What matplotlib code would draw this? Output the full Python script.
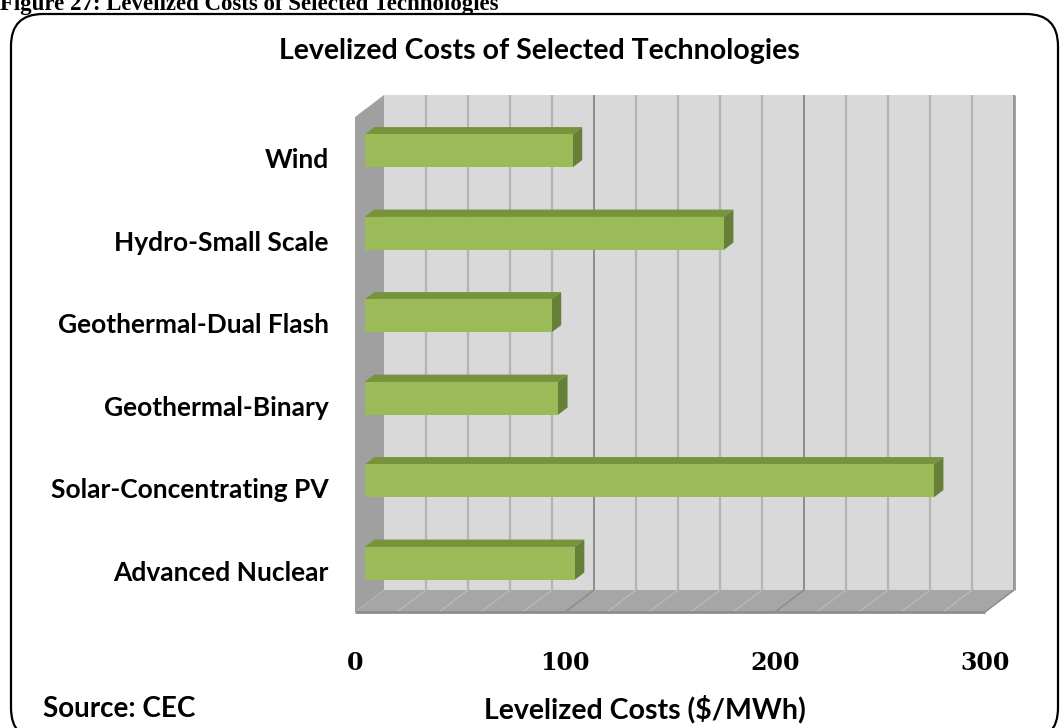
import numpy as np
import matplotlib
matplotlib.use("Agg")
import matplotlib.pyplot as plt
from matplotlib.patches import Polygon, FancyBboxPatch
from matplotlib.transforms import IdentityTransform, offset_copy

# data (bottom to top, as drawn)
technologies = ["Advanced Nuclear", "Solar-Concentrating PV", "Geothermal-Binary",
                "Geothermal-Dual Flash", "Hydro-Small Scale", "Wind"]
costs = [100, 271, 92, 89, 171, 99]
x_ticks = [0, 100, 200, 300]
grid_step = 20

W, H = 1064, 728
SANS = ["Lato", "DejaVu Sans"]
DEPTH = np.array([29.0, 22.0])   # pixel shift from front plane to back wall

fig = plt.figure(figsize=(W / 100, H / 100), dpi=100)
ax = fig.add_axes([355 / W, 1 - 612 / H, 630 / W, 495 / H])
ax.set_xlim(x_ticks[0], x_ticks[-1])
ax.set_ylim(-0.5, len(technologies) - 0.5)
ax.patch.set_visible(False)
for s in ax.spines.values():
    s.set_visible(False)

y0, y1 = ax.get_ylim()
x0, x1 = ax.get_xlim()


def proj(v, c, d):
    # oblique projection: data point on front plane, pushed back by depth d (0..1)
    return ax.transData.transform((v, c)) + d * DEPTH


def face(pts, color, z):
    xy = [proj(*p) for p in pts]
    ax.add_patch(Polygon(xy, closed=True, facecolor=color, edgecolor="none",
                         transform=IdentityTransform(), clip_on=False, zorder=z))


def seg(p, q, color, lw, z):
    a, b = proj(*p), proj(*q)
    ax.plot([a[0], b[0]], [a[1], b[1]], color=color, lw=lw,
            transform=IdentityTransform(), clip_on=False, zorder=z,
            solid_capstyle="butt")


# back wall, side wall, floor
face([(x0, y0, 1), (x1, y0, 1), (x1, y1, 1), (x0, y1, 1)], "#D9D9D9", 1)
face([(x0, y0, 0), (x0, y0, 1), (x0, y1, 1), (x0, y1, 0)], "#A0A0A0", 2)
face([(x0, y0, 0), (x1, y0, 0), (x1, y0, 1), (x0, y0, 1)], "#A6A6A6", 2)

for gx in np.arange(x0 + grid_step, x1 + 1, grid_step):
    major = gx % 100 == 0
    col = "#8C8C8C" if major else "#B4B4B4"
    seg((gx, y0, 1), (gx, y1, 1), col, 1.4 if major else 1.6, 1.5)
    seg((gx, y0, 1), (gx, y0, 0), "#8C8C8C" if major else "#BDBDBD",
        1.1 if major else 0.8, 2.5)

seg((x0, y0, 0), (x1, y0, 0), "#8E8E8E", 2.0, 2.6)
seg((x1, y0, 1), (x1, y1, 1), "#999999", 2.0, 1.6)

# bars: front face through barh, top and end faces as projected polygons
bar_h = 0.4
front = offset_copy(ax.transData, fig=fig, x=DEPTH[0] / 3, y=DEPTH[1] / 3, units="dots")
ypos = np.arange(len(technologies))
ax.barh(ypos, costs, height=bar_h, color="#9BBB59", transform=front,
        zorder=5, clip_on=False)
for i, v in enumerate(costs):
    top, bot = i + bar_h / 2, i - bar_h / 2
    face([(0, top, 1 / 3), (v, top, 1 / 3), (v, top, 2 / 3), (0, top, 2 / 3)], "#77933C", 4)
    face([(v, bot, 1 / 3), (v, top, 1 / 3), (v, top, 2 / 3), (v, bot, 2 / 3)], "#66803A", 4)

# axes text
ax.set_yticks(ypos)
ax.set_yticklabels(technologies, fontsize=19, fontweight="bold", family=SANS)
ax.set_xticks(x_ticks)
ax.set_xticklabels([str(t) for t in x_ticks], fontsize=17, fontweight="bold",
                   family=["DejaVu Serif"])
ax.tick_params(axis="y", length=0, pad=19)
ax.tick_params(axis="x", length=0, pad=28)

fig.text(539 / W, 1 - 51 / H, "Levelized Costs of Selected Technologies",
         ha="center", va="center", fontsize=20.5, fontweight="bold", family=SANS)
fig.text(645 / W, 1 - 709 / H, "Levelized Costs ($/MWh)",
         ha="center", va="center", fontsize=20.5, fontweight="bold", family=SANS)
fig.text(43 / W, 1 - 709 / H, "Source: CEC",
         ha="left", va="center", fontsize=20, fontweight="bold", family=SANS)

# document caption cut off at the top, and rounded frame
fig.text(0, 1 - 10 / H, "Figure 27: Levelized Costs of Selected Technologies",
         ha="left", va="baseline", fontsize=16.5, fontweight="bold",
         family=["Liberation Serif", "DejaVu Serif"])
frame = FancyBboxPatch((11, -12), 1047, H - 14 + 12, boxstyle="round,pad=0,rounding_size=32",
                       transform=IdentityTransform(), facecolor="none",
                       edgecolor="black", lw=1.6)
fig.patches.append(frame)

fig.savefig("out.png", dpi=100)
